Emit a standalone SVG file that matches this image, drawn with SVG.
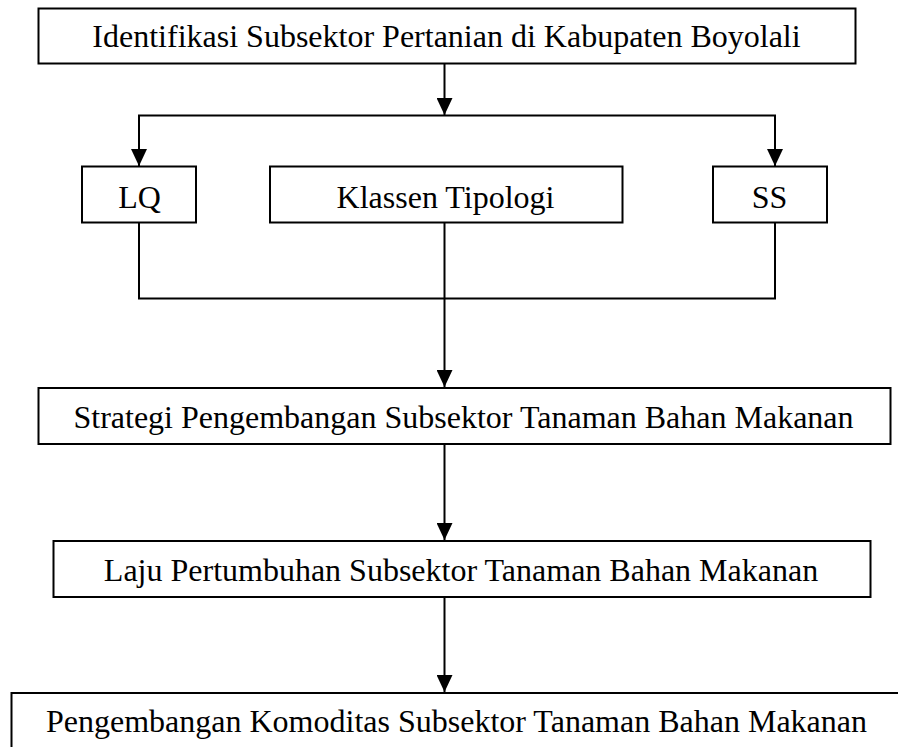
<svg xmlns="http://www.w3.org/2000/svg" width="898" height="747" viewBox="0 0 898 747">
<defs>
<style>
.box{fill:#fff;stroke:#000;stroke-width:2}
.lbl{font-family:"Liberation Serif","Times New Roman",serif;font-size:32px;fill:#000;text-anchor:middle}
.ln{fill:none;stroke:#000;stroke-width:2}
</style>
<marker id="ah" markerUnits="userSpaceOnUse" markerWidth="18" markerHeight="16" refX="17" refY="8" orient="auto-start-reverse" viewBox="0 0 18 16">
<path d="M0,0 L17,8 L0,16 Z" fill="#000"/>
</marker>
</defs>
<rect width="898" height="747" fill="#fff"/>
<g id="connectors">
<path class="ln" d="M444.5,64 V115" marker-end="url(#ah)"/>
<path class="ln" d="M139,166 V115.5 H775 V166" marker-end="url(#ah)" marker-start="url(#ah)"/>
<path class="ln" d="M139,223 V298.5 H775 V223"/>
<path class="ln" d="M444.5,223 V387" marker-end="url(#ah)"/>
<path class="ln" d="M444.5,444 V540" marker-end="url(#ah)"/>
<path class="ln" d="M444.5,597 V692" marker-end="url(#ah)"/>
</g>
<g id="n1"><rect class="box" x="38.5" y="8.5" width="817" height="55"/><text class="lbl" x="446.5" y="47">Identifikasi Subsektor Pertanian di Kabupaten Boyolali</text></g>
<g id="n2"><rect class="box" x="82" y="166.5" width="114" height="56"/><text class="lbl" x="139.5" y="208">LQ</text></g>
<g id="n3"><rect class="box" x="270" y="166.5" width="352.5" height="56"/><text class="lbl" x="445.5" y="208">Klassen Tipologi</text></g>
<g id="n4"><rect class="box" x="713" y="166.5" width="114" height="56"/><text class="lbl" x="769.5" y="208">SS</text></g>
<g id="n5"><rect class="box" x="38.5" y="388" width="852" height="56"/><text class="lbl" x="463.5" y="428">Strategi Pengembangan Subsektor Tanaman Bahan Makanan</text></g>
<g id="n6"><rect class="box" x="53.5" y="541" width="817" height="56"/><text class="lbl" x="461" y="581">Laju Pertumbuhan Subsektor Tanaman Bahan Makanan</text></g>
<g id="n7"><rect class="box" x="11.5" y="693" width="900" height="70"/><text class="lbl" x="456.5" y="732">Pengembangan Komoditas Subsektor Tanaman Bahan Makanan</text></g>
</svg>
